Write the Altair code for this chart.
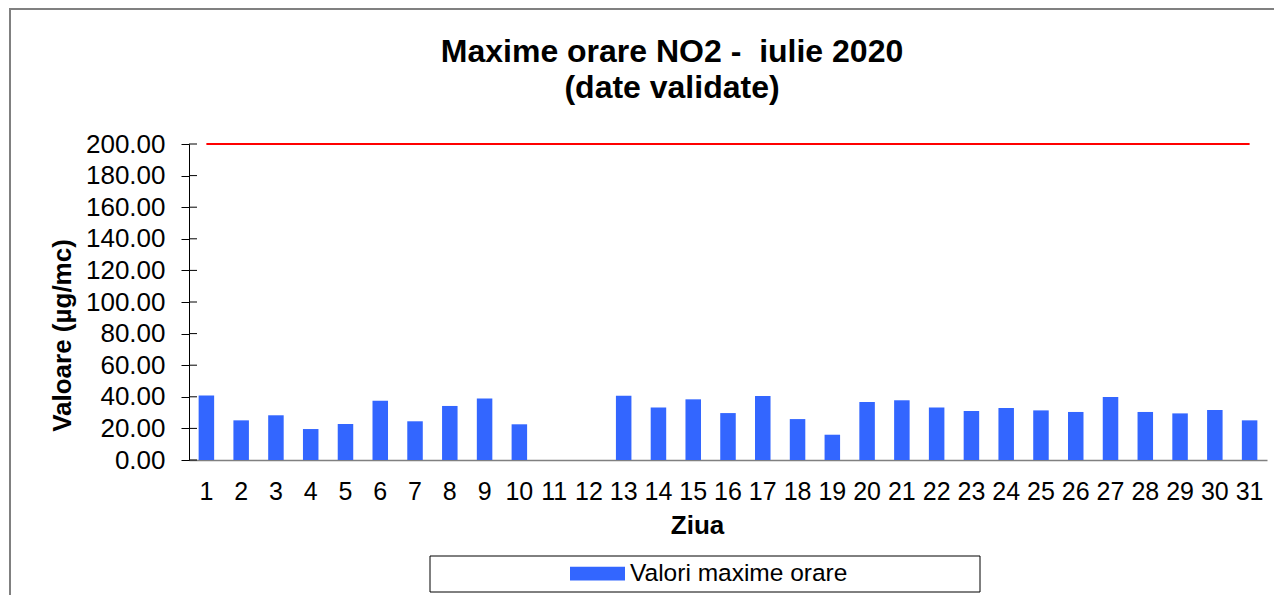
import altair as alt
import pandas as pd

# ---- data ----
days = list(range(1, 32))
values = [40.9, 25.1, 28.3, 19.6, 22.8, 37.5, 24.5, 34.2, 39.0, 22.6,
          None, None,
          40.7, 33.3, 38.4, 29.7, 40.5, 25.9, 16.0, 36.7, 37.8, 33.3,
          31.0, 32.9, 31.4, 30.4, 39.9, 30.4, 29.5, 31.6, 25.1]
limit_value = 200
y_ticks = [0, 20, 40, 60, 80, 100, 120, 140, 160, 180, 200]
series_name = "Valori maxime orare"
title_line1 = "Maxime orare NO2 - \u00a0iulie 2020"
title_line2 = "(date validate)"
x_title = "Ziua"
y_title = "Valoare (µg/mc)"

FONT = "Liberation Sans"
BAR_COLOR = "#3366FF"

df = pd.DataFrame({"Ziua": days, "Valoare": values, "Serie": series_name})
df["Limita"] = limit_value

x_enc = alt.X(
    "Ziua:O",
    scale=alt.Scale(domain=days, paddingInner=0.554, paddingOuter=0.277),
    axis=alt.Axis(
        title=x_title, labelAngle=0, ticks=False, labelPadding=19,
        labelFontSize=25, labelFont=FONT, labelColor="black",
        labelOverlap=False,
        domainColor="#808080", domainWidth=1.5,
        titleFontSize=26, titleFont=FONT, titleFontWeight="bold",
        titleColor="black", titleX=508, titleY=65, titleBaseline="middle",
        titleAlign="center",
    ),
)

y_scale = alt.Scale(domain=[0, 200], nice=False, zero=True)
y_axis = alt.Axis(
    title=y_title, values=y_ticks, tickCount=11, format=".2f", grid=False,
    tickSize=8, tickColor="black", domainColor="black",
    labelPadding=16, labelFontSize=26, labelFont=FONT,
    labelColor="black", labelOverlap=False, labelBound=False,
    titleFontSize=26, titleFont=FONT, titleFontWeight="bold",
    titleColor="black", titleX=-127, titleY=191, titleAngle=270,
    titleAlign="center", titleBaseline="middle",
)

bars = alt.Chart(df).mark_bar().encode(
    x=x_enc,
    y=alt.Y("Valoare:Q", scale=y_scale, axis=y_axis),
    color=alt.Color(
        "Serie:N",
        scale=alt.Scale(domain=[series_name], range=[BAR_COLOR]),
        legend=alt.Legend(
            orient="none", legendX=381, legendY=402, title=None,
            symbolType="M-1,-0.25L1,-0.25L1,0.25L-1,0.25Z",
            symbolSize=3025, symbolStrokeWidth=0, symbolOpacity=1,
            labelFontSize=24.5, labelFont=FONT, labelColor="black",
            labelOffset=5, padding=0, labelLimit=0,
        ),
    ),
)

limit_line = alt.Chart(df).mark_line(color="#FF0000", strokeWidth=2).encode(
    x=alt.X("Ziua:O"),
    y=alt.Y("Limita:Q", scale=y_scale, axis=y_axis),
)

# inner half of the "cross" tick marks on the value axis
tick_rules = alt.Chart(
    alt.Data(values=[{"Valoare": t} for t in y_ticks])
).mark_rule(color="black", strokeWidth=1).encode(
    y=alt.Y("Valoare:Q", scale=y_scale, axis=y_axis),
    x=alt.value(0),
    x2=alt.value(8),
)

one_row = alt.Data(values=[{}])

title1 = alt.Chart(one_row).mark_text(
    text=title_line1, font=FONT, fontSize=32, fontWeight="bold",
    color="black", align="center", baseline="alphabetic",
).encode(x=alt.value(483), y=alt.value(-82))

title2 = alt.Chart(one_row).mark_text(
    text=title_line2, font=FONT, fontSize=32, fontWeight="bold",
    color="black", align="center", baseline="alphabetic",
).encode(x=alt.value(483), y=alt.value(-46))

legend_box = alt.Chart(one_row).mark_rect(
    fillOpacity=0, stroke="black", strokeWidth=1
).encode(
    x=alt.value(241), x2=alt.value(791), y=alt.value(412), y2=alt.value(448)
)

outer_frame = alt.Chart(one_row).mark_rect(
    fillOpacity=0, stroke="#808080", strokeWidth=2
).encode(
    x=alt.value(-179), x2=alt.value(1300), y=alt.value(-135), y2=alt.value(700)
)

chart = alt.layer(
    outer_frame, bars, limit_line, tick_rules, legend_box, title1, title2
).properties(
    width=1078,
    height=316,
    autosize=alt.AutoSizeParams(type="none"),
    padding={"left": 181, "top": 136, "right": 7, "bottom": 135},
    background="white",
).configure(font=FONT).configure_view(strokeWidth=0).configure_axis(
    labelOverlap=False
)

chart.save("out.html", embed_options={"renderer": "svg", "actions": False})
